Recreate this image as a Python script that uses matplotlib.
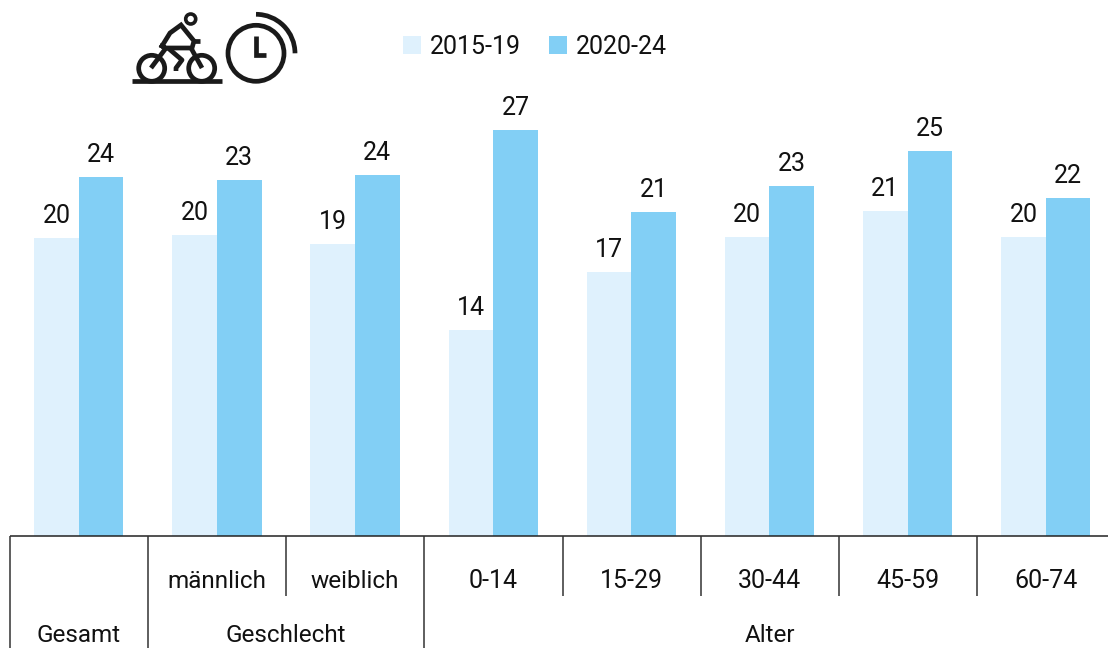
import matplotlib
matplotlib.use("Agg")
import matplotlib.pyplot as plt
from matplotlib.patches import Circle, Arc, Rectangle

W, H = 1108, 648
plt.rcParams['font.family'] = ['Roboto', 'DejaVu Sans']

categories = ["Gesamt", "männlich", "weiblich", "0-14", "15-29", "30-44", "45-59", "60-74"]
groups = ["Geschlecht", "Alter"]
series_names = ["2015-19", "2020-24"]
values_a = [19.87, 20.07, 19.47, 13.73, 17.6, 19.93, 21.67, 19.93]
values_b = [23.93, 23.73, 24.07, 27.07, 21.6, 23.33, 25.67, 22.53]
labels_a = [20, 20, 19, 14, 17, 20, 21, 20]
labels_b = [24, 23, 24, 27, 21, 23, 25, 22]
colors = ["#DFF1FD", "#82CFF5"]

fig = plt.figure(figsize=(W / 100, H / 100), dpi=100)
px = fig.add_axes([0, 0, 1, 1], xlim=(0, W), ylim=(H, 0), zorder=2)
px.axis("off")
px.patch.set_alpha(0)

ax = fig.add_axes([0, 0, 1, 1], zorder=1)
step = 138.14
x0 = 78.8
ax.set_xlim(-x0 / step, (W - x0) / step)
ax.set_ylim(-(H - 536) / 15, 536 / 15)
ax.axis("off")
bw = 44.6 / step
pos = list(range(len(categories)))
FS = 18
FW = 17.5
TC = "#111111"
ax.bar([p - bw / 2 for p in pos], values_a, bw, color=colors[0])
ax.bar([p + bw / 2 for p in pos], values_b, bw, color=colors[1])
for p, va, vb, la, lb in zip(pos, values_a, values_b, labels_a, labels_b):
    ax.annotate(str(la), (p - bw / 2, va), xytext=(0, 15), textcoords="offset pixels",
                ha="center", va="baseline", fontsize=FS, color=TC)
    ax.annotate(str(lb), (p + bw / 2, vb), xytext=(0, 15), textcoords="offset pixels",
                ha="center", va="baseline", fontsize=FS, color=TC)

# table-like axis
px.plot([10, W], [536, 536], color="#222222", lw=1.1, solid_capstyle="butt")
for i in range(8):
    xv = 10 + step * i
    long = i in (0, 1, 3)
    px.plot([xv, xv], [536, 648 if long else 596], color="#333333", lw=1.1, solid_capstyle="butt")

for p, c in zip(pos[1:], categories[1:]):
    px.text(x0 + p * step, 588, c, ha="center", va="baseline",
            fontsize=FW if p < 3 else FS, color=TC)
for xc, t in [(x0, categories[0]), (x0 + 1.5 * step, groups[0]), (x0 + 5 * step, groups[1])]:
    px.text(xc, 647, t, ha="center", va="bottom", fontsize=FW, color=TC)

# legend
for x_box, x_txt, c, n in [(403, 430, colors[0], series_names[0]), (549, 576, colors[1], series_names[1])]:
    px.add_patch(Rectangle((x_box, 36), 18, 18, color=c, lw=0))
    px.text(x_txt, 53.5, n, ha="left", va="baseline", fontsize=FS, color=TC)

# icon: cyclist and clock
K = "#1a1a1a"
S = 3.4
px.plot([132, 222], [81, 81], color=K, lw=S, solid_capstyle="butt")
for cx in (151.7, 201.7):
    px.add_patch(Circle((cx, 68.3), 13, fill=False, ec=K, lw=S))
px.add_patch(Circle((190.7, 19), 5, fill=False, ec=K, lw=2.6))
px.plot([162, 170, 181, 194, 192, 166, 162], [46, 33, 25, 41, 48, 48, 46], color=K, lw=S, solid_joinstyle="miter")
px.plot([192, 200], [41, 41], color=K, lw=S, solid_capstyle="butt")
px.plot([168, 182, 176, 176], [48, 60, 68, 71], color=K, lw=S, solid_capstyle="butt")
px.plot([151, 166], [68, 48], color=K, lw=S, solid_capstyle="butt")
px.plot([191, 202], [48, 68], color=K, lw=S, solid_capstyle="butt")
px.add_patch(Circle((256, 53.3), 28, fill=False, ec=K, lw=S))
px.plot([256, 256, 266], [36, 55, 55], color=K, lw=S, solid_joinstyle="miter", solid_capstyle="butt")
px.add_patch(Arc((256, 53.3), 78, 78, theta1=-90, theta2=0, ec=K, lw=S))

fig.savefig("out.png", dpi=100, facecolor="white")
